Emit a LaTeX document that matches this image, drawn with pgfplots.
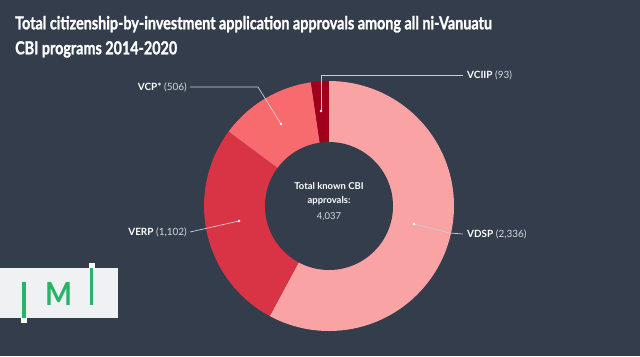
\documentclass[border=0pt]{standalone}
\usepackage{pgfplots}
\pgfplotsset{compat=1.18}
\usepackage{pgfplotstable}
\usepackage{fontspec}
\setmainfont{Lato}
\newfontfamily\titlefont[FakeStretch=0.8, FakeBold=1.2]{Lato}
\definecolor{bg}{HTML}{333D4C}
\definecolor{cVDSP}{HTML}{F9A3A4}
\definecolor{cVERP}{HTML}{D93446}
\definecolor{cVCP}{HTML}{F76A6E}
\definecolor{cVCIIP}{HTML}{A1001C}
\definecolor{valgray}{HTML}{D5D9DE}
\definecolor{linegray}{HTML}{C9CED5}
\definecolor{logobg}{HTML}{F0F1F2}
\definecolor{logogreen}{HTML}{27B36A}
\pgfplotstableread{
name value
VDSP 2336
VERP 1102
VCP 506
VCIIP 93
}\cbidata
\begin{document}
\begin{tikzpicture}[x=1bp,y=-1bp]
\fill[bg] (0,0) rectangle (640,356);
% title
\node[anchor=base west, inner sep=0, text=white, font=\titlefont\bfseries\fontsize{18}{22}\selectfont] at (15,29.3) {Total citizenship-by-investment application approvals among all ni-Vanuatu};
\node[anchor=base west, inner sep=0, text=white, font=\titlefont\bfseries\fontsize{18}{22}\selectfont] at (15,54.3) {CBI programs 2014-2020};
% logo
\fill[logobg] (0,268) rectangle (118,318);
\fill[logogreen] (22.3,282) rectangle (25.8,318);
\fill[white] (21,318) rectangle (27,323);
\fill[logogreen] (89.5,268) rectangle (93,305);
\fill[white] (89,263) rectangle (95,268);
\node[anchor=north west, inner sep=0, text=logogreen] at (45,282) {\resizebox{27bp}{23bp}{\bfseries M}};
% angles from data
\pgfplotstablegetelem{0}{value}\of\cbidata \let\vA\pgfplotsretval
\pgfplotstablegetelem{1}{value}\of\cbidata \let\vB\pgfplotsretval
\pgfplotstablegetelem{2}{value}\of\cbidata \let\vC\pgfplotsretval
\pgfplotstablegetelem{3}{value}\of\cbidata \let\vD\pgfplotsretval
\pgfmathsetmacro\tot{\vA+\vB+\vC+\vD}
\pgfmathsetmacro\aA{90}
\pgfmathsetmacro\aB{90-360*(\vA/\tot)}
\pgfmathsetmacro\aC{\aB-360*(\vB/\tot)}
\pgfmathsetmacro\aD{\aC-360*(\vC/\tot)}
\pgfmathsetmacro\aE{\aD-360*(\vD/\tot)}
\begin{axis}[at={(329bp,-206bp)}, anchor=center, x=1bp, y=1bp, scale only axis,
  xmin=-130, xmax=130, ymin=-130, ymax=130, hide axis, clip=false]
\addplot[fill=cVDSP, draw=none, domain=\aB:\aA, samples=90] ({125*cos(x)},{125*sin(x)}) -- (axis cs:0,0) -- cycle;
\addplot[fill=cVERP, draw=none, domain=\aC:\aB, samples=60] ({125*cos(x)},{125*sin(x)}) -- (axis cs:0,0) -- cycle;
\addplot[fill=cVCP, draw=none, domain=\aD:\aC, samples=40] ({125*cos(x)},{125*sin(x)}) -- (axis cs:0,0) -- cycle;
\addplot[fill=cVCIIP, draw=none, domain=\aE:\aD, samples=10] ({125*cos(x)},{125*sin(x)}) -- (axis cs:0,0) -- cycle;
\addplot[fill=bg, draw=none, domain=0:360, samples=120] ({64*cos(x)},{64*sin(x)}) -- cycle;
% leader lines
\draw[linegray, line width=0.7bp] (axis cs:-8,95) -- (axis cs:-8,131) -- (axis cs:134,131);
\draw[linegray, line width=0.7bp] (axis cs:-48,82) -- (axis cs:-71,119) -- (axis cs:-139,119);
\draw[linegray, line width=0.7bp] (axis cs:-90,-15) -- (axis cs:-139,-26);
\draw[linegray, line width=0.7bp] (axis cs:85,-18) -- (axis cs:121,-27) -- (axis cs:134,-28);
\fill[white] (axis cs:-8,95) circle[radius=1.4bp];
\fill[white] (axis cs:-48,82) circle[radius=1.4bp];
\fill[white] (axis cs:-90,-15) circle[radius=1.4bp];
\fill[white] (axis cs:85,-18) circle[radius=1.4bp];
% labels
\node[anchor=west, inner sep=0, font=\fontsize{10}{12}\selectfont, text=white] at (axis cs:138,131) {\textbf{VCIIP} \textcolor{valgray}{(93)}};
\node[anchor=east, inner sep=0, font=\fontsize{10}{12}\selectfont, text=white] at (axis cs:-142,119) {\textbf{VCP*} \textcolor{valgray}{(506)}};
\node[anchor=east, inner sep=0, font=\fontsize{10}{12}\selectfont, text=white] at (axis cs:-142,-26) {\textbf{VERP} \textcolor{valgray}{(1,102)}};
\node[anchor=west, inner sep=0, font=\fontsize{10}{12}\selectfont, text=white] at (axis cs:138,-28) {\textbf{VDSP} \textcolor{valgray}{(2,336)}};
% center
\node[inner sep=0, font=\bfseries\fontsize{9.5}{11}\selectfont, text=white] at (axis cs:0,20) {Total known CBI};
\node[inner sep=0, font=\bfseries\fontsize{9.5}{11}\selectfont, text=white] at (axis cs:0,5) {approvals:};
\node[inner sep=0, font=\fontsize{9.5}{11}\selectfont, text=valgray] at (axis cs:0,-11) {4,037};
\end{axis}
\pgfresetboundingbox
\path (0,0) rectangle (640,356);
\end{tikzpicture}
\end{document}
